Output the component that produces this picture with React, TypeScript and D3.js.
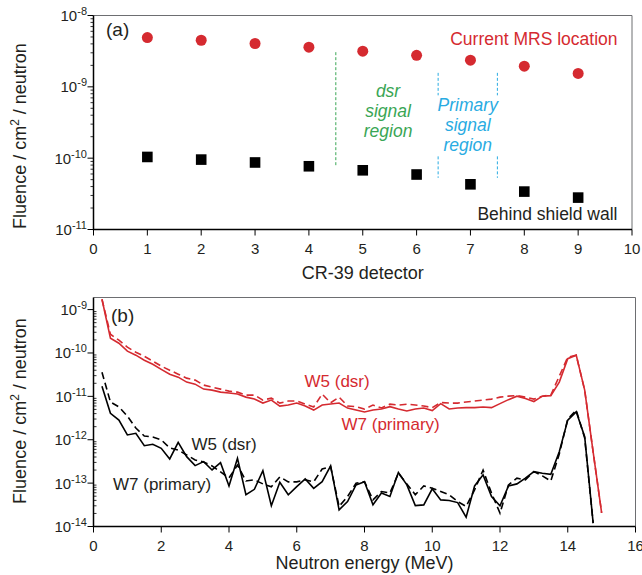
import React from "react";
import * as d3 from "d3";

// (a) fluence per CR-39 detector
const detectors = [1, 2, 3, 4, 5, 6, 7, 8, 9];
const mrsFluence = [4.9e-9, 4.5e-9, 4.05e-9, 3.6e-9, 3.16e-9, 2.77e-9, 2.36e-9, 1.95e-9, 1.54e-9];
const shieldFluence = [1.04e-10, 9.55e-11, 8.7e-11, 7.7e-11, 6.76e-11, 5.9e-11, 4.3e-11, 3.4e-11, 2.8e-11];

// (b) neutron spectra, MeV
const energies = [
  0.25, 0.5, 0.75, 1, 1.25, 1.5, 1.75, 2, 2.25, 2.5, 2.75, 3, 3.25, 3.5, 3.75,
  4, 4.25, 4.5, 4.75, 5, 5.25, 5.5, 5.75, 6, 6.25, 6.5, 6.75, 7, 7.25, 7.5,
  7.75, 8, 8.25, 8.5, 8.75, 9, 9.25, 9.5, 9.75, 10, 10.25, 10.5, 10.75, 11, 11.25,
  11.5, 11.75, 12, 12.25, 12.5, 12.75, 13, 13.25, 13.5, 13.75, 14, 14.25, 14.5, 14.75, 15,
];
const mrsW7 = [
  1.73e-9, 2.19e-10, 1.68e-10, 1.1e-10, 8.9e-11, 6.8e-11, 5.5e-11, 4.2e-11, 3.25e-11, 2.77e-11,
  2.13e-11, 1.91e-11, 1.47e-11, 1.39e-11, 1.25e-11, 1.19e-11, 1.13e-11, 9.6e-12, 8.65e-12, 7.0e-12,
  8.2e-12, 5.97e-12, 6.3e-12, 7.0e-12, 6.0e-12, 4.83e-12, 6.3e-12, 6.64e-12, 7.0e-12, 5.37e-12,
  4.83e-12, 4.35e-12, 4.83e-12, 5.1e-12, 5.8e-12, 5.1e-12, 4.6e-12, 5.1e-12, 5.37e-12, 4.7e-12,
  6.8e-12, 5.1e-12, 5.4e-12, 5.5e-12, 5.5e-12, 5.7e-12, 5.5e-12, 6.8e-12, 8.4e-12, 1.01e-11,
  8.9e-12, 7.6e-12, 1.01e-11, 1.04e-11, 2.13e-11, 7.4e-11, 8.9e-11, 1.39e-11, 5.2e-13, 2.07e-14,
];
const mrsW5 = [
  1.73e-9, 2.7e-10, 1.97e-10, 1.36e-10, 1.04e-10, 8.4e-11, 6.5e-11, 4.97e-11, 4.0e-11, 3.25e-11,
  2.63e-11, 2.37e-11, 1.82e-11, 1.63e-11, 1.47e-11, 1.32e-11, 1.25e-11, 1.07e-11, 1.07e-11, 8.2e-12,
  9.1e-12, 7.0e-12, 7.8e-12, 7.8e-12, 6.6e-12, 5.7e-12, 1.13e-11, 7.1e-12, 9.6e-12, 6.0e-12,
  5.8e-12, 5.1e-12, 6.3e-12, 5.4e-12, 6.6e-12, 6.3e-12, 6.6e-12, 6.3e-12, 6.0e-12, 5.5e-12,
  7.2e-12, 7.0e-12, 7.0e-12, 7.4e-12, 7.8e-12, 8.2e-12, 8.65e-12, 9.6e-12, 1.01e-11, 1.04e-11,
  9.6e-12, 8.65e-12, 1.01e-11, 1.07e-11, 2.92e-11, 8.0e-11, 8.9e-11, 1.39e-11, 5.2e-13, 2.07e-14,
];
const shieldW7 = [
  1.72e-11, 4.06e-12, 2.84e-12, 1.29e-12, 1.41e-12, 7.3e-13, 7.85e-13, 6.35e-13, 3.6e-13, 8.7e-13,
  4.07e-13, 2.53e-13, 3.13e-13, 2.01e-13, 2.96e-13, 8.6e-14, 3.74e-13, 5.4e-14, 7.2e-14, 1.94e-13,
  3.0e-14, 1.05e-13, 5.4e-14, 8.3e-14, 1.25e-13, 7.6e-14, 1.08e-13, 2.49e-13, 2.42e-14, 3.76e-14,
  9.1e-14, 1.08e-13, 3.16e-14, 5.9e-14, 4.9e-14, 1.75e-13, 9.1e-14, 3.04e-14, 3.15e-14, 7.4e-14,
  4.1e-14, 3.96e-14, 3.56e-14, 1.64e-14, 8.6e-14, 1.55e-13, 4.9e-14, 2.99e-14, 8.6e-14, 9.6e-14,
  1.3e-13, 1.84e-13, 1.69e-13, 1.6e-13, 5.3e-13, 2.84e-12, 4.4e-12, 1.17e-12, 1.2e-14,
];
const shieldW5 = [
  3.6e-11, 7.4e-12, 5.7e-12, 3.5e-12, 1.86e-12, 1.22e-12, 1.16e-12, 9.9e-13, 6.5e-13, 5.8e-13,
  4.46e-13, 3.42e-13, 3.07e-13, 2.49e-13, 1.81e-13, 1.32e-13, 2.6e-13, 1.12e-13, 1.19e-13, 9.6e-14,
  8.2e-14, 1.39e-13, 1.07e-13, 1.07e-13, 1.19e-13, 1.07e-13, 2.12e-13, 2.4e-13, 2.9e-14, 4.9e-14,
  9.96e-14, 1.08e-13, 4.1e-14, 6.4e-14, 5.9e-14, 1.69e-13, 9.6e-14, 5.4e-14, 8.6e-14, 7.6e-14,
  6.4e-14, 5.4e-14, 3.76e-14, 2.9e-14, 7.0e-14, 2.0e-13, 5.9e-14, 2.03e-14, 9.1e-14, 1.3e-13,
  1.19e-13, 1.84e-13, 1.47e-13, 1.12e-13, 4.7e-13, 3.0e-12, 4.83e-12, 1.1e-12, 1.2e-14,
];

const FONT = "'Liberation Sans', Arial, Helvetica, sans-serif";
const RED = "#d52a30";
const INK = "#231f20";
const GREEN = "#3aa655";
const BLUE = "#29abe2";
const FRAME = "#6d6e71";

// panel (a) scales
const xA = d3.scaleLinear().domain([0, 10]).range([93.5, 632]);
const yA = d3.scaleLog().domain([1e-11, 1e-8]).range([229.5, 15.5]);
// panel (b) scales
const xB = d3.scaleLinear().domain([0, 16]).range([93.5, 635.5]);
const yB = d3.scaleLog().domain([1e-14, 1.9e-9]).range([526.5, 297.5]);

function LogAxis({ y, x0, minorInside }) {
  return (
    <g>
      {y.ticks().map((t) => {
        const e = Math.log10(t);
        const py = y(t);
        if (Math.abs(e - Math.round(e)) < 1e-6) {
          return (
            <g key={t}>
              <line x1={x0 - 6} x2={x0} y1={py} y2={py} stroke="#000" />
              <text x={x0 - 6.5} y={py + 5.5} textAnchor="end" fontSize={15} fill={INK}>
                10<tspan dy={-6} fontSize={11}>{Math.round(e)}</tspan>
              </text>
            </g>
          );
        }
        return (
          <line key={t} x1={minorInside ? x0 : x0 - 3} x2={minorInside ? x0 + 3 : x0}
            y1={py} y2={py} stroke="#000" strokeWidth={0.8} />
        );
      })}
    </g>
  );
}

function XAxis({ x, y0, ticks }) {
  return (
    <g>
      {ticks.map((t) => (
        <g key={t}>
          <line x1={x(t)} x2={x(t)} y1={y0} y2={y0 + 6} stroke="#000" />
          <text x={x(t)} y={y0 + 24} textAnchor="middle" fontSize={15} fill={INK}>{t}</text>
        </g>
      ))}
    </g>
  );
}

function Frame({ x, y }) {
  const [l, r] = x.range();
  const [b, t] = y.range();
  return (
    <g>
      <path d={`M${l},${t}H${r}V${b}`} fill="none" stroke={FRAME} strokeWidth={1} />
      <path d={`M${l},${t}V${b}H${r}`} fill="none" stroke="#000" strokeWidth={1.5} />
    </g>
  );
}

function YTitle({ cx, cy }) {
  return (
    <text transform={`translate(${cx},${cy}) rotate(-90)`} textAnchor="middle" fontSize={18} fill={INK}>
      Fluence / cm<tspan dy={-7} fontSize={12}>2</tspan><tspan dy={7}> / neutron</tspan>
    </text>
  );
}

export default function App() {
  const lineB = (vals) =>
    d3.line().x((d, i) => xB(energies[i])).y((d) => yB(d))(vals);

  return (
    <svg width={642} height={575} fontFamily={FONT}
      style={{ position: "absolute", left: 0, top: 0, background: "#fff" }}>
      {/* ---------- panel (a) ---------- */}
      <Frame x={xA} y={yA} />
      <LogAxis y={yA} x0={93.5} minorInside={false} />
      <XAxis x={xA} y0={229.5} ticks={d3.range(0, 11)} />
      <YTitle cx={26} cy={136} />
      <text x={xA(5)} y={279} textAnchor="middle" fontSize={18} fill={INK}>CR-39 detector</text>
      <text x={106} y={36} fontSize={19} fill={INK}>(a)</text>

      {/* signal regions */}
      <line x1={xA(4.5)} x2={xA(4.5)} y1={yA(3.06e-9)} y2={yA(7.9e-11)} stroke={GREEN} strokeDasharray="3,2" />
      {[6.4, 7.5].map((d) => (
        <g key={d}>
          <line x1={xA(d)} x2={xA(d)} y1={yA(1.57e-9)} y2={yA(7.6e-10)} stroke={BLUE} strokeDasharray="3,2" />
          <line x1={xA(d)} x2={xA(d)} y1={yA(1.06e-10)} y2={yA(5.3e-11)} stroke={BLUE} strokeDasharray="3,2" />
        </g>
      ))}
      <text x={xA(5.47)} y={96.5} textAnchor="middle" fontSize={17.5} fontStyle="italic" fill={GREEN}>
        <tspan x={xA(5.47)}>dsr</tspan>
        <tspan x={xA(5.47)} dy={20}>signal</tspan>
        <tspan x={xA(5.47)} dy={20}>region</tspan>
      </text>
      <text x={xA(6.95)} y={111} textAnchor="middle" fontSize={17.5} fontStyle="italic" fill={BLUE}>
        <tspan x={xA(6.95)}>Primary</tspan>
        <tspan x={xA(6.95)} dy={20}>signal</tspan>
        <tspan x={xA(6.95)} dy={20}>region</tspan>
      </text>

      {detectors.map((d, i) => (
        <circle key={"c" + d} cx={xA(d)} cy={yA(mrsFluence[i])} r={5.5} fill={RED} />
      ))}
      {detectors.map((d, i) => (
        <rect key={"s" + d} x={xA(d) - 5.3} y={yA(shieldFluence[i]) - 5.3} width={10.6} height={10.6} fill="#000" />
      ))}
      <text x={617.5} y={45} textAnchor="end" fontSize={17.5} fill={RED}>Current MRS location</text>
      <text x={617.5} y={219.5} textAnchor="end" fontSize={17.5} fill={INK}>Behind shield wall</text>

      {/* ---------- panel (b) ---------- */}
      <Frame x={xB} y={yB} />
      <LogAxis y={yB} x0={93.5} minorInside={true} />
      <XAxis x={xB} y0={526.5} ticks={d3.range(0, 17, 2)} />
      <YTitle cx={26} cy={411} />
      <text x={xB(8)} y={569} textAnchor="middle" fontSize={18} fill={INK}>Neutron energy (MeV)</text>
      <text x={111} y={321.5} fontSize={19} fill={INK}>(b)</text>

      <path d={lineB(mrsW5)} fill="none" stroke={RED} strokeWidth={1.6} strokeDasharray="7,4" />
      <path d={lineB(mrsW7)} fill="none" stroke={RED} strokeWidth={1.6} />
      <path d={lineB(shieldW5)} fill="none" stroke="#000" strokeWidth={1.6} strokeDasharray="7,4" />
      <path d={lineB(shieldW7)} fill="none" stroke="#000" strokeWidth={1.6} />

      <text x={304.5} y={386.5} fontSize={17} fill={RED}>W5 (dsr)</text>
      <text x={341.5} y={430} fontSize={17} fill={RED}>W7 (primary)</text>
      <text x={191.5} y={449.5} fontSize={17} fill={INK}>W5 (dsr)</text>
      <text x={113} y={489.5} fontSize={17} fill={INK}>W7 (primary)</text>
    </svg>
  );
}
